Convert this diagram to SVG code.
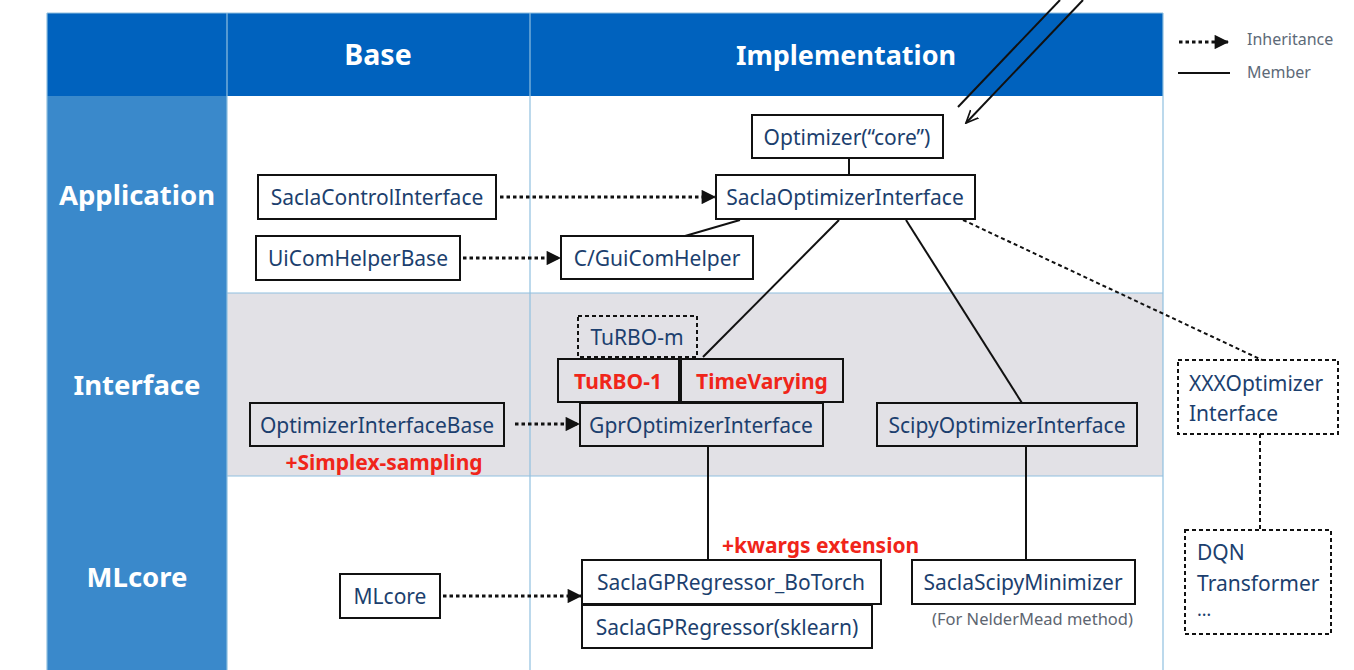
<svg xmlns="http://www.w3.org/2000/svg" width="1354" height="670" viewBox="0 0 1354 670">
<defs>
<style>
.hdr{font-family:"Noto Sans","Liberation Sans",sans-serif;font-weight:bold;fill:#fff;text-anchor:middle}
.row{font-family:"Noto Sans","Liberation Sans",sans-serif;font-weight:bold;fill:#fff;font-size:27.5px;text-anchor:middle}
.box{fill:#fff;stroke:#111;stroke-width:2}
.boxg{fill:#e2e1e6;stroke:#111;stroke-width:2}
.dbox{fill:none;stroke:#111;stroke-width:2;stroke-dasharray:4,3}
.t{font-family:"Noto Sans","Liberation Sans",sans-serif;font-size:21px;fill:#1c3f6e}
.tm{text-anchor:middle}
.red{font-family:"Noto Sans","Liberation Sans",sans-serif;font-size:21px;font-weight:bold;fill:#f0251a}
.note{font-family:"Noto Sans","Liberation Sans",sans-serif;font-size:16.5px;fill:#5d6570}
.leg{font-family:"Noto Sans","Liberation Sans",sans-serif;font-size:16px;fill:#5d6a78}
.inh{stroke:#111;stroke-width:3.2;stroke-dasharray:3.5,3;fill:none}
.mem{stroke:#111;stroke-width:2;fill:none}
.dash{stroke:#111;stroke-width:2;stroke-dasharray:4,3;fill:none}
.grid{stroke:#8fc0e0;stroke-width:1.2;fill:none}
</style>
<marker id="ah" viewBox="0 0 10 10" refX="10" refY="5" markerWidth="5" markerHeight="4.5" orient="auto" markerUnits="strokeWidth">
<path d="M0,0 L10,5 L0,10 Z" fill="#111"/>
</marker>
<marker id="oa" viewBox="0 0 10 10" refX="9" refY="5" markerWidth="7" markerHeight="7" orient="auto" markerUnits="strokeWidth">
<path d="M0,1 L9,5 L0,9" fill="none" stroke="#111" stroke-width="1.2"/>
</marker>
</defs>
<rect width="1354" height="670" fill="#fff"/>
<g id="table">
<rect x="47" y="13" width="1116" height="83" fill="#0062be"/>
<rect x="47" y="96" width="180" height="574" fill="#3a89cb"/>
<rect x="227" y="293" width="936" height="183" fill="#e2e1e6"/>
<line class="grid" x1="227" y1="293" x2="1163" y2="293"/>
<line class="grid" x1="227" y1="476" x2="1163" y2="476"/>
<line class="grid" x1="227" y1="13" x2="227" y2="670"/>
<line class="grid" x1="530" y1="13" x2="530" y2="670"/>
<line class="grid" x1="1163" y1="13" x2="1163" y2="670"/>
<line class="grid" x1="47" y1="13" x2="1163" y2="13"/>
<line class="grid" x1="47" y1="13" x2="47" y2="670" stroke="#c8d4de"/>
<text class="hdr" x="378" y="65" font-size="28.5">Base</text>
<text class="hdr" x="846" y="65" font-size="27">Implementation</text>
<text class="row" x="137" y="205">Application</text>
<text class="row" x="137" y="395">Interface</text>
<text class="row" x="137" y="587">MLcore</text>
</g>
<g id="legend">
<line class="inh" x1="1179" y1="42" x2="1229" y2="42" marker-end="url(#ah)"/>
<text class="leg" x="1247" y="45">Inheritance</text>
<line class="mem" x1="1178" y1="73" x2="1230" y2="73"/>
<text class="leg" x="1247" y="78">Member</text>
</g>
<g id="connectors">
<line class="mem" x1="1060" y1="0" x2="958" y2="107"/>
<line class="mem" x1="1083" y1="0" x2="966" y2="123" marker-end="url(#oa)"/>
<line class="mem" x1="849" y1="158" x2="849" y2="175"/>
<line class="inh" x1="500" y1="197" x2="716" y2="197" marker-end="url(#ah)"/>
<line class="inh" x1="463" y1="258" x2="561" y2="258" marker-end="url(#ah)"/>
<line class="mem" x1="740" y1="220" x2="685" y2="236"/>
<line class="mem" x1="839" y1="220" x2="703" y2="357"/>
<line class="mem" x1="906" y1="220" x2="1022" y2="403"/>
<line class="dash" x1="963" y1="220" x2="1262" y2="360"/>
<line class="dash" x1="1260" y1="434" x2="1260" y2="530"/>
<line class="inh" x1="515" y1="424" x2="580" y2="424" marker-end="url(#ah)"/>
<line class="mem" x1="708" y1="446" x2="708" y2="560"/>
<line class="mem" x1="1026" y1="446" x2="1026" y2="560"/>
<line class="inh" x1="443" y1="596" x2="582" y2="596" marker-end="url(#ah)"/>
</g>
<g id="n-core"><rect class="box" x="752" y="115" width="191" height="43"/><text class="t tm" x="847" y="145">Optimizer(“core”)</text></g>
<g id="n-saclaopt"><rect class="box" x="716" y="175" width="259" height="44"/><text class="t tm" x="845" y="205">SaclaOptimizerInterface</text></g>
<g id="n-saclactrl"><rect class="box" x="258" y="175" width="238" height="44"/><text class="t tm" x="377" y="205">SaclaControlInterface</text></g>
<g id="n-uicom"><rect class="box" x="256" y="236" width="204" height="44"/><text class="t tm" x="358" y="266">UiComHelperBase</text></g>
<g id="n-gui"><rect class="box" x="561" y="236" width="192" height="43"/><text class="t tm" x="657" y="266">C/GuiComHelper</text></g>
<g id="n-turbom"><rect class="dbox" x="578" y="316" width="119" height="41"/><text class="t tm" x="637" y="345">TuRBO-m</text></g>
<g id="n-turbo1"><rect class="boxg" x="558" y="359" width="121" height="43"/><text class="red tm" x="618" y="389" font-size="22.5">TuRBO-1</text></g>
<g id="n-timevar"><rect class="boxg" x="681" y="359" width="162" height="43"/><text class="red tm" x="762" y="389" font-size="22">TimeVarying</text></g>
<g id="n-gpr"><rect class="boxg" x="580" y="403" width="243" height="43"/><text class="t tm" x="701" y="433">GprOptimizerInterface</text></g>
<g id="n-oib"><rect class="boxg" x="250" y="403" width="254" height="43"/><text class="t tm" x="377" y="433">OptimizerInterfaceBase</text><text class="red tm" x="384" y="470">+Simplex-sampling</text></g>
<g id="n-scipyoi"><rect class="boxg" x="877" y="403" width="260" height="43"/><text class="t tm" x="1007" y="433">ScipyOptimizerInterface</text></g>
<g id="n-xxx"><rect class="dbox" x="1178" y="360" width="160" height="74"/><text class="t"><tspan x="1189" y="391">XXXOptimizer</tspan><tspan x="1189" y="421">Interface</tspan></text></g>
<g id="n-dqn"><rect class="dbox" x="1185" y="530" width="146" height="104"/><text class="t"><tspan x="1197" y="560">DQN</tspan><tspan x="1197" y="591">Transformer</tspan><tspan x="1197" y="616" font-size="18">…</tspan></text></g>
<g id="n-botorch"><rect class="box" x="582" y="560" width="299" height="44"/><text class="t tm" x="731" y="590">SaclaGPRegressor_BoTorch</text><text class="red" x="722" y="553">+kwargs extension</text></g>
<g id="n-sklearn"><rect class="box" x="582" y="605" width="290" height="43"/><text class="t tm" x="727" y="635">SaclaGPRegressor(sklearn)</text></g>
<g id="n-scipymin"><rect class="box" x="912" y="560" width="223" height="44"/><text class="t tm" x="1023" y="590">SaclaScipyMinimizer</text><text class="note" x="932" y="625">(For NelderMead method)</text></g>
<g id="n-mlcore"><rect class="box" x="340" y="574" width="100" height="44"/><text class="t tm" x="390" y="604">MLcore</text></g>
</svg>
